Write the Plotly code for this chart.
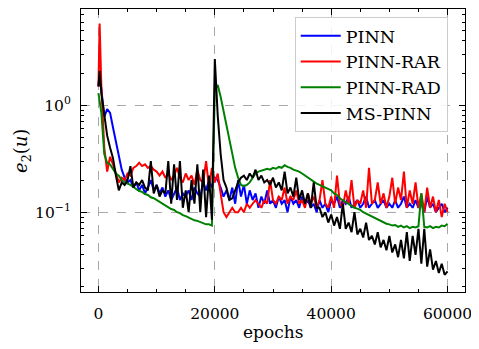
import plotly.graph_objects as go

epochs = [0, 200] + list(range(500, 60001, 500))

pinn = [1.5, 2.0, 1.4, 0.78, 0.92, 0.85, 0.62, 0.45, 0.33, 0.25,
        0.21, 0.19, 0.2, 0.17, 0.19, 0.16, 0.18, 0.15, 0.17, 0.2,
        0.16, 0.18, 0.15, 0.17, 0.14, 0.16, 0.13, 0.15, 0.17, 0.13,
        0.15, 0.14, 0.16, 0.13, 0.17, 0.15, 0.14, 0.19, 0.16, 0.2,
        0.17, 0.21, 0.2, 0.17, 0.14, 0.16, 0.13, 0.17, 0.12, 0.2,
        0.14, 0.18, 0.12, 0.16, 0.13, 0.15, 0.11, 0.14, 0.12, 0.16,
        0.12, 0.13, 0.11, 0.14, 0.12, 0.13, 0.1, 0.14, 0.12, 0.13,
        0.11, 0.14, 0.12, 0.13, 0.11, 0.12, 0.1, 0.13, 0.11, 0.12,
        0.1, 0.13, 0.12, 0.14, 0.11, 0.13, 0.12, 0.14, 0.11, 0.12,
        0.13, 0.11, 0.12, 0.14, 0.11, 0.12, 0.13, 0.11, 0.12, 0.13,
        0.11, 0.12, 0.11, 0.13, 0.11, 0.12, 0.14, 0.11, 0.12, 0.11,
        0.13, 0.11, 0.12, 0.1, 0.14, 0.11, 0.12, 0.1, 0.11, 0.12,
        0.1, 0.11]

pinn_rar = [1.5, 5.8, 1.5, 0.4, 0.24, 0.33, 0.28, 0.23, 0.19, 0.21,
            0.2, 0.23, 0.22, 0.26, 0.27, 0.29, 0.27, 0.28, 0.26, 0.27,
            0.25, 0.24, 0.22, 0.24, 0.21, 0.23, 0.2, 0.22, 0.26, 0.21,
            0.19, 0.23, 0.2, 0.22, 0.18, 0.25, 0.2, 0.19, 0.3, 0.17,
            0.26, 0.19, 0.23, 0.15, 0.1, 0.09, 0.1, 0.11, 0.1, 0.1,
            0.11, 0.1, 0.12, 0.11, 0.12, 0.13, 0.12, 0.11, 0.13, 0.12,
            0.2, 0.13, 0.12, 0.14, 0.13, 0.17, 0.12, 0.14, 0.13, 0.16,
            0.12, 0.13, 0.11, 0.15, 0.12, 0.14, 0.11, 0.13, 0.2, 0.12,
            0.11, 0.14, 0.11, 0.22, 0.12, 0.11, 0.16, 0.12, 0.2, 0.11,
            0.13, 0.12, 0.16, 0.11, 0.26, 0.12, 0.13, 0.19, 0.12, 0.15,
            0.11, 0.14, 0.21, 0.12, 0.17, 0.13, 0.24, 0.11, 0.16, 0.12,
            0.19, 0.11, 0.15, 0.1, 0.17, 0.11, 0.14, 0.1, 0.13, 0.09,
            0.12, 0.1]

pinn_rad = [1.3, 1.1, 0.85, 0.35, 0.29, 0.28, 0.25, 0.23, 0.22, 0.2,
            0.19, 0.185, 0.18, 0.172, 0.165, 0.158, 0.155, 0.148, 0.145, 0.138,
            0.135, 0.13, 0.124, 0.12, 0.117, 0.112, 0.107, 0.105, 0.1, 0.098,
            0.094, 0.092, 0.089, 0.087, 0.084, 0.083, 0.081, 0.08, 0.077, 0.077,
            0.075, 1.4, 1.55, 1.2, 0.88, 0.65, 0.48, 0.35, 0.26, 0.21,
            0.18, 0.175, 0.18, 0.19, 0.21, 0.23, 0.24, 0.245, 0.25, 0.255,
            0.25, 0.26, 0.255, 0.265, 0.26, 0.275, 0.265, 0.26, 0.25, 0.245,
            0.24, 0.23, 0.22, 0.21, 0.2, 0.195, 0.185, 0.18, 0.175, 0.17,
            0.165, 0.16, 0.15, 0.145, 0.135, 0.13, 0.125, 0.12, 0.115, 0.11,
            0.108, 0.105, 0.1, 0.097, 0.094, 0.09, 0.088, 0.085, 0.083, 0.08,
            0.078, 0.077, 0.075, 0.076, 0.073, 0.075, 0.072, 0.074, 0.071, 0.073,
            0.072, 0.074, 0.15, 0.073, 0.072, 0.074, 0.071, 0.073, 0.072, 0.075,
            0.074, 0.078]

ms_pinn = [1.5, 2.1, 1.3, 0.8, 0.52, 0.4, 0.32, 0.22, 0.16, 0.19,
           0.18, 0.2, 0.27, 0.17, 0.19, 0.18, 0.2, 0.17, 0.16, 0.3,
           0.15, 0.18, 0.14, 0.16, 0.15, 0.3, 0.12, 0.28, 0.13, 0.3,
           0.11, 0.16, 0.1, 0.2, 0.12, 0.28, 0.1, 0.25, 0.09, 0.22,
           0.085, 2.7, 0.8, 0.35, 0.2, 0.17, 0.13, 0.135, 0.16, 0.19,
           0.21, 0.22, 0.2, 0.23, 0.21, 0.25, 0.2, 0.22, 0.19, 0.2,
           0.18, 0.21, 0.17, 0.19, 0.16, 0.24, 0.15, 0.17, 0.14, 0.21,
           0.13, 0.16, 0.12, 0.15, 0.11, 0.19, 0.11, 0.11, 0.09, 0.1,
           0.08, 0.095, 0.075, 0.09, 0.07, 0.12, 0.07, 0.08, 0.065, 0.1,
           0.062, 0.07, 0.058, 0.08, 0.055, 0.06, 0.05, 0.065, 0.047, 0.055,
           0.044, 0.06, 0.042, 0.05, 0.038, 0.055, 0.037, 0.065, 0.035, 0.06,
           0.04, 0.07, 0.033, 0.07, 0.031, 0.045, 0.029, 0.035, 0.027, 0.033,
           0.026, 0.028]

series = [("PINN", pinn, "#0000ff"),
          ("PINN-RAR", pinn_rar, "#ff0000"),
          ("PINN-RAD", pinn_rad, "#008000"),
          ("MS-PINN", ms_pinn, "#000000")]

x_ticks = [0, 20000, 40000, 60000]
y_ticks = [0.1, 1]
y_ticktext = ["10<sup>−1</sup>", "10<sup>0</sup>"]
y_minor = [0.02, 0.03, 0.04, 0.05, 0.06, 0.07, 0.08, 0.09,
           0.2, 0.3, 0.4, 0.5, 0.6, 0.7, 0.8, 0.9,
           2, 3, 4, 5, 6, 7]

FONT = "DejaVu Serif"

fig = go.Figure()
for name, vals, col in series:
    fig.add_trace(go.Scatter(x=epochs, y=vals, mode="lines", name=name,
                             line=dict(color=col, width=2)))

axis_common = dict(showline=True, linecolor="black", linewidth=1.2, mirror="allticks",
                   ticks="inside", ticklen=6, tickwidth=1, tickcolor="black",
                   showgrid=True, gridcolor="#a8a8a8", griddash="dash", gridwidth=1,
                   zeroline=False, automargin=False,
                   tickfont=dict(family=FONT, size=15.5, color="black"))

fig.update_xaxes(range=[-3000, 63000], tickvals=x_ticks, ticktext=[str(v) for v in x_ticks],
                 minor=dict(dtick=5000, tick0=0, ticks="inside", ticklen=3, tickcolor="black", showgrid=False),
                 ticklabelstandoff=7, **axis_common)
fig.update_yaxes(type="log", range=[-1.746, 0.90], tickvals=y_ticks, ticktext=y_ticktext,
                 minor=dict(tickvals=y_minor, ticks="inside", ticklen=3, tickcolor="black", showgrid=False),
                 ticklabelstandoff=6, **axis_common)

# page body has an 8px default margin, so the figure is shrunk and shifted accordingly
fig.update_layout(
    width=471, height=341,
    margin=dict(l=73, r=14, t=1, b=57),
    paper_bgcolor="white", plot_bgcolor="white",
    font=dict(family=FONT, size=17, color="black"),
    showlegend=True,
    legend=dict(x=0.955, y=0.972, xanchor="right", yanchor="top",
                bgcolor="rgba(255,255,255,0.85)", bordercolor="#cccccc", borderwidth=1,
                font=dict(family=FONT, size=17.5, color="black"),
                itemwidth=40, tracegroupgap=3),
    annotations=[
        dict(text="epochs", xref="paper", yref="paper", x=0.5, y=-0.14,
             xanchor="center", yanchor="middle", showarrow=False,
             font=dict(family=FONT, size=17, color="black")),
        dict(text="<i>e</i><sub>2</sub>(<i>u</i>)", xref="paper", yref="paper", x=-0.155, y=0.5,
             xanchor="center", yanchor="middle", showarrow=False, textangle=-90,
             font=dict(family=FONT, size=18, color="black")),
    ],
)

fig.write_html("out.html")
